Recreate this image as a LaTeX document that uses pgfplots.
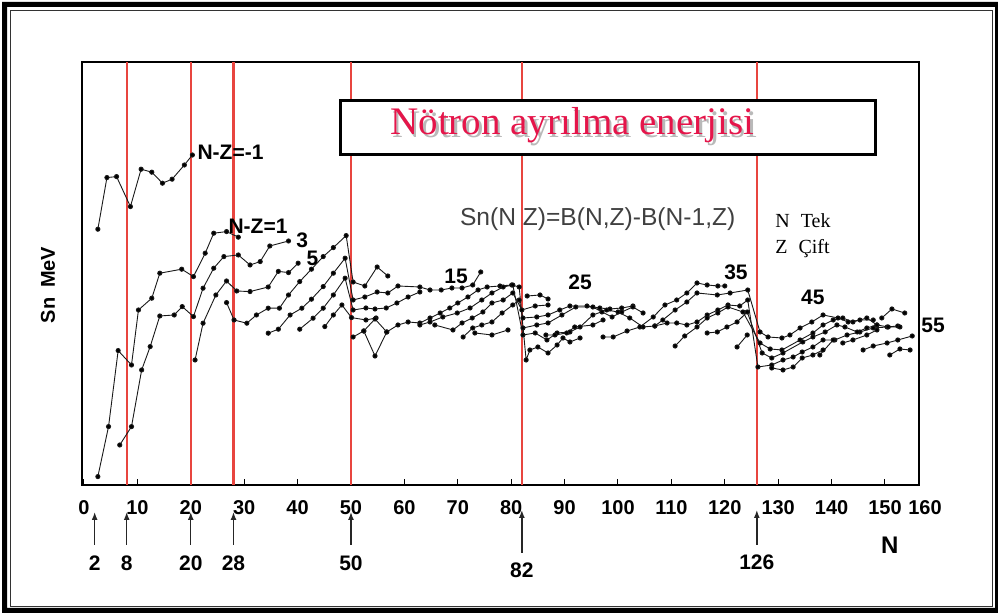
\documentclass[border=0pt]{standalone}
\usepackage{pgfplots}
\pgfplotsset{compat=1.18}
\usepackage{fontspec}
\setmainfont{Liberation Sans}
\newfontfamily\seriffont{Liberation Serif}
\usetikzlibrary{arrows.meta}
\definecolor{redline}{HTML}{E8453F}
\definecolor{titlered}{HTML}{E5154A}
\begin{document}
\begin{tikzpicture}[x=1pt,y=1pt]
\useasboundingbox (0,0) rectangle (499,306.5);
% outer double frame
\fill[black, even odd rule] (1,0) rectangle (499,305.5) (3.5,2.5) rectangle (497.5,303);
\draw[line width=0.6pt, black!80] (5.25,3.4) rectangle (496.4,301.25);
\begin{axis}[
  at={(41pt,64pt)}, anchor=south west,
  scale only axis, width=418.5pt, height=211.5pt,
  xmin=-0.37, xmax=156.37, ymin=0, ymax=21.15,
  axis line style={line width=1.4pt},
  xtick={0,10,...,150},
  xticklabels={0,10,20,30,40,50,60,70,80,90,100,110,120,130,140,150},
  ytick=\empty,
  tick align=inside, xtick pos=lower,
  major tick length=3pt,
  tick style={black, line width=0.5pt},
  xticklabel style={font=\bfseries\fontsize{10}{12}\selectfont, yshift=-4pt},
  clip=false,
  ser/.style={black!90, line width=0.45pt, mark=*, mark size=1.05pt, mark options={solid,fill=black}},
]
% formula (the comma is hidden behind the N=82 line in the original)
\node[font=\fontsize{12.3}{14}\selectfont, text=black!75] at (axis cs:96.2,13.3) {Sn(N\phantom{,}Z)=B(N,Z)-B(N-1,Z)};
% magic numbers
\pgfplotsinvokeforeach{8,20,28,50,82,126}{
  \draw[redline, line width=1.1pt] (axis cs:#1,0) -- (axis cs:#1,21.15);
}
% N-Z=-1
\addplot[ser] coordinates {(2.6,12.79)(4.3,15.37)(6.1,15.42)(8.7,13.92)(10.7,15.79)(12.7,15.64)(14.7,15.09)(16.5,15.29)(18.8,16.0)(20.3,16.5)};
% N-Z=1
\addplot[ser] coordinates {(2.6,0.42)(4.6,2.92)(6.4,6.72)(8.9,6.0)(10.2,8.75)(12.7,9.34)(14.2,10.59)(18.3,10.79)(20.5,10.42)(22.7,11.59)(24.3,12.59)(26.7,12.67)(28.9,12.39)};
% N-Z=3
\addplot[ser] coordinates {(6.7,2.0)(8.9,2.92)(10.8,5.75)(12.4,6.92)(14.2,8.45)(16.9,8.5)(18.4,8.92)(20.5,8.42)(22.3,9.84)(24.3,10.84)(26.2,11.42)(28.9,11.5)(31.1,11.0)(33.0,11.17)(34.8,11.95)(38.3,12.2)};
% N-Z=5
\addplot[ser] coordinates {(20.8,6.25)(22.3,8.09)(24.7,9.5)(26.7,10.2)(28.6,9.7)(31.1,9.67)(34.5,9.9)(36.4,10.68)(38.3,10.62)(40.1,11.09)};
% further chains
\addplot[ser] coordinates {(26.7,9.12)(28.1,8.25)(30.5,8.09)(32.3,8.5)(34.5,8.84)(36.6,8.84)(38.3,9.5)(40.4,10.17)(42.6,10.79)(44.8,11.42)(46.7,11.87)(49.1,12.47)(50.4,10.15)(52.6,9.95)(54.9,10.9)(56.9,10.45)};
\addplot[ser] coordinates {(34.5,7.59)(36.4,7.79)(38.6,8.5)(40.8,8.84)(42.6,9.29)(44.8,9.92)(46.7,10.59)(48.9,11.34)(50.4,9.25)(52.6,9.4)(54.9,9.65)(56.9,9.6)(58.8,9.95)(62.9,9.9)(64.8,9.75)(66.9,9.75)(68.9,9.85)(70.8,9.85)(72.8,10.0)(74.3,10.65)};
\addplot[ser] coordinates {(40.4,7.79)(42.9,8.34)(44.8,8.84)(46.7,9.5)(48.9,10.34)(50.4,8.75)(52.8,8.85)(54.5,8.8)(56.6,8.85)(58.6,9.1)(60.7,9.4)(62.9,9.65)};
\addplot[ser] coordinates {(45.1,7.92)(46.7,8.5)(48.3,9.0)(50.1,8.37)(52.8,8.25)(54.7,8.35)};
\addplot[ser] coordinates {(50.4,7.4)(52.4,7.7)(54.5,8.3)(56.7,7.65)(58.8,8.0)(60.7,8.15)(62.9,8.1)(64.8,8.35)(66.7,8.6)(68.5,8.85)(70.0,9.1)(71.9,9.4)(73.8,9.75)(75.5,9.9)(77.9,9.95)(80.1,10.0)(81.5,9.9)(82.8,6.25)(83.5,6.75)(85.0,6.9)(86.9,6.6)(88.6,7.0)(89.7,7.35)(91.0,7.15)(92.9,7.35)};
\addplot[ser] coordinates {(52.4,7.7)(54.5,6.45)(56.7,7.65)};
\addplot[ser] coordinates {(62.9,8.0)(64.8,8.15)(67.2,8.4)(69.9,8.6)(72.3,8.85)(74.5,9.25)(76.4,9.6)(78.5,9.9)(80.3,10.0)(82.2,7.5)(84.5,7.6)(86.7,7.25)(88.6,7.6)(91.0,7.65)(92.9,7.9)(95.3,8.5)(97.9,8.75)(100.0,8.65)(102.2,8.35)(104.7,7.9)(106.9,7.95)(109.2,8.1)(111.0,8.1)(112.9,8.0)(114.8,8.15)(116.7,8.5)(118.7,8.75)(120.6,9.0)(122.8,8.95)(124.3,9.25)(126.2,5.9)(128.8,6.0)(130.9,6.25)(132.8,6.4)(134.5,6.65)(136.5,6.9)(138.4,7.25)(140.6,7.25)(142.9,7.5)(145.3,7.65)(147.8,7.85)(150.4,7.9)(152.4,7.95)};
\addplot[ser] coordinates {(65.7,8.0)(69.1,7.75)(70.8,8.1)(72.7,8.35)(74.7,8.65)(76.4,9.1)(78.5,9.25)(80.3,9.6)(82.0,8.75)(84.5,8.95)(86.9,9.0)};
\addplot[ser] coordinates {(71.0,7.4)(72.8,7.85)(74.5,8.0)(76.4,8.15)(78.3,8.6)(80.3,9.0)(81.5,9.25)(82.2,8.35)(84.8,8.4)(86.9,8.5)(89.1,8.75)(91.0,8.95)(94.2,8.95)(96.6,8.85)(98.5,8.8)(100.7,8.85)(102.8,8.95)};
\addplot[ser] coordinates {(73.2,7.6)(76.4,7.5)(79.4,7.75)};
\addplot[ser] coordinates {(83.0,9.45)(85.4,9.5)(86.9,9.3)};
\addplot[ser] coordinates {(82.2,7.85)(84.8,8.0)(86.9,8.1)(89.5,8.5)(92.1,8.9)(95.3,8.9)(97.0,8.65)(98.9,8.4)(100.7,8.65)(102.8,8.9)(104.7,8.6)};
\addplot[ser] coordinates {(86.5,7.5)(88.2,7.5)(90.4,7.6)(91.9,7.9)(95.3,8.0)(97.2,8.25)};
\addplot[ser] coordinates {(97.2,7.4)(99.1,7.4)(101.7,7.7)(104.1,7.9)(106.6,8.4)(108.8,9.0)(111.0,9.25)(112.9,9.6)(114.8,10.1)(116.7,10.0)(118.7,9.95)(120.0,9.95)};
\addplot[ser] coordinates {(106.9,7.95)(108.4,8.25)(110.7,8.75)(112.9,9.15)(114.8,9.6)(118.6,9.5)(121.0,9.6)(124.3,9.75)(126.6,7.65)(128.1,7.4)(130.7,7.35)(132.2,7.5)(134.1,7.85)(136.3,8.15)(138.4,8.5)(141.2,8.35)(143.1,8.15)(145.3,8.25)(147.8,8.25)};
\addplot[ser] coordinates {(110.7,6.95)(112.5,7.45)(114.8,7.9)(116.7,8.35)(118.7,8.6)(120.6,8.9)(123.4,8.65)(126.6,7.1)(128.5,6.8)(130.7,6.75)(134.1,7.25)(136.5,7.6)(138.4,8.0)(140.3,8.25)(142.1,8.35)(144.0,8.15)(146.6,8.35)(148.5,8.0)(150.6,7.9)(152.8,7.9)};
\addplot[ser] coordinates {(116.7,7.6)(118.6,7.65)(120.4,7.9)(122.3,8.15)(124.2,8.65)(127.0,6.6)(128.8,6.35)(130.9,6.6)(134.6,7.15)(136.5,7.4)(138.8,7.65)(141.0,8.0)(142.5,7.9)(144.8,7.65)(146.6,7.85)(148.5,8.0)};
\addplot[ser] coordinates {(122.3,6.9)(124.2,7.5)};
\addplot[ser] coordinates {(128.8,5.85)(130.9,5.75)(132.8,5.9)(134.5,6.35)(136.5,6.5)(138.4,6.75)};
\addplot[ser] coordinates {(137.8,6.5)(140.3,7.25)};
\addplot[ser] coordinates {(145.9,6.75)(147.8,6.95)(150.4,7.1)(152.4,7.25)(155.1,7.45)};
\addplot[ser] coordinates {(150.9,6.5)(152.8,6.8)(154.7,6.75)};
\addplot[ser] coordinates {(142.1,7.1)(144.0,7.25)(146.6,7.5)(148.5,7.75)};
\addplot[ser] coordinates {(149.4,8.35)(151.3,8.8)(153.7,8.6)};
% curve labels
\begin{scope}[every node/.style={font=\bfseries\fontsize{10.5}{12}\selectfont, inner sep=0pt}]
\node[anchor=west] at (axis cs:21.2,16.65) {N-Z=-1};
\node[anchor=west] at (axis cs:27.0,12.95) {N-Z=1};
\node[anchor=west] at (axis cs:39.7,12.25) {3};
\node[anchor=west] at (axis cs:41.6,11.35) {5};
\node at (axis cs:69.7,10.45) {15};
\node at (axis cs:92.9,10.15) {25};
\node at (axis cs:122.1,10.65) {35};
\node at (axis cs:136.5,9.4) {45};
\node at (axis cs:159,8.0) {55};
\end{scope}
% N Tek / Z Cift
\node[anchor=base west, inner sep=0pt, font=\seriffont\fontsize{10}{12}\selectfont] at (axis cs:129.4,12.85) {N\hspace{5.5pt}Tek};
\node[anchor=base west, inner sep=0pt, font=\seriffont\fontsize{10}{12}\selectfont] at (axis cs:129.4,11.55) {Z\hspace{5.5pt}Çift};
% title box
\draw[line width=1.5pt, fill=white] (axis cs:48.1,16.5) rectangle (axis cs:148.3,19.2);
\node[anchor=base west, inner sep=0pt, font=\seriffont\fontsize{19.5}{22}\selectfont, text=black!50, opacity=0.55, xshift=1.3pt, yshift=-1.5pt] at (axis cs:57.3,17.5) {Nötron ayrılma enerjisi};
\node[anchor=base west, inner sep=0pt, font=\seriffont\fontsize{19.5}{22}\selectfont, text=titlered] at (axis cs:57.3,17.5) {Nötron ayrılma enerjisi};
% extra tick label and axis title
\node[anchor=north, font=\bfseries\fontsize{10}{12}\selectfont, yshift=-4pt] at (axis cs:157.5,0) {160};
\node[font=\bfseries\fontsize{12}{14}\selectfont] at (axis cs:150.9,-3.0) {N};
\node[rotate=90, font=\bfseries\fontsize{10}{12}\selectfont] at (axis cs:-6.74,10) {Sn\hspace{5pt}MeV};
% magic number arrows
\pgfplotsinvokeforeach{2,8,20,28,50}{
  \draw[-{Latex[length=4pt,width=3pt]}, line width=0.7pt, black!85] (axis cs:#1,-3.0) -- (axis cs:#1,-1.35);
  \node[font=\bfseries\fontsize{10.5}{12}\selectfont] at (axis cs:#1,-3.9) {#1};
}
\draw[-{Latex[length=4pt,width=3pt]}, line width=0.7pt, black!85] (axis cs:82,-3.4) -- (axis cs:82,-1.25);
\node[font=\bfseries\fontsize{10.5}{12}\selectfont] at (axis cs:82,-4.25) {82};
\draw[-{Latex[length=4pt,width=3pt]}, line width=0.7pt, black!85] (axis cs:126,-3.0) -- (axis cs:126,-1.25);
\node[font=\bfseries\fontsize{10.5}{12}\selectfont] at (axis cs:126,-3.85) {126};
\end{axis}
\end{tikzpicture}
\end{document}
